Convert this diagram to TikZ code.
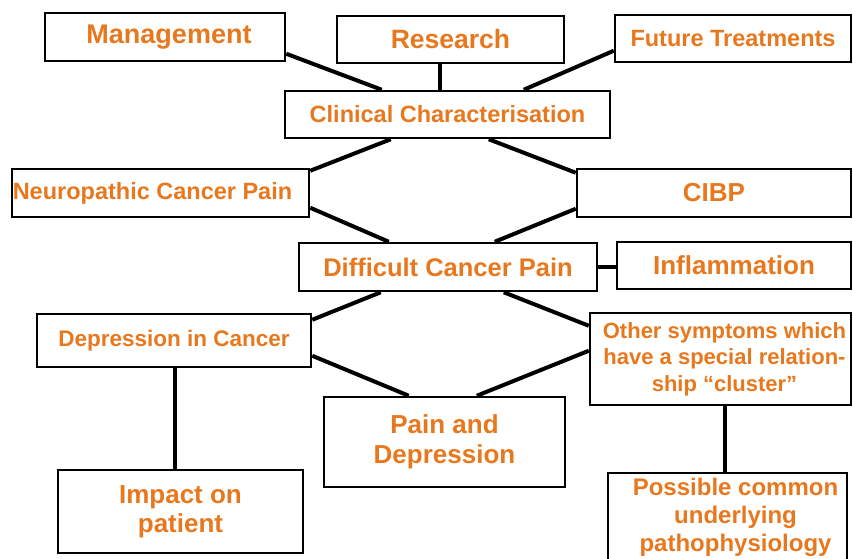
\documentclass[tikz,border=0pt]{standalone}
\usepackage{fontspec}
\setmainfont{Liberation Sans}
\usetikzlibrary{calc}
\definecolor{txt}{RGB}{232,120,30}
\newcommand{\fs}[2]{\fontsize{#1}{#2}\selectfont}
\newcommand{\sh}{\hspace*{16pt}}
\begin{document}
\begin{tikzpicture}[x=1pt,y=-1pt,
  box/.style={draw=black, line width=2.5pt, fill=white, inner sep=0pt, align=center, text=txt, font=\bfseries},
  link/.style={line width=4pt, black}]
\useasboundingbox (0,0) rectangle (853,558);
\fill[white] (0,0) rectangle (853,558);

\node[box, minimum width=240pt, minimum height=48pt, font=\bfseries\fs{27}{30}] (mgmt) at (165,37) {\hspace*{8pt}Management};
\node[box, minimum width=227pt, minimum height=47pt, font=\bfseries\fs{26.5}{30}] (research) at (450.5,39.5) {Research};
\node[box, minimum width=236pt, minimum height=47pt, font=\bfseries\fs{23.5}{28}] (future) at (733,38.5) {Future Treatments};
\node[box, minimum width=325pt, minimum height=47pt, font=\bfseries\fs{23.5}{28}] (clin) at (447.5,114.5) {Clinical Characterisation};
\node[box, minimum width=297pt, minimum height=48pt, font=\bfseries\fs{23.5}{28}] (neuro) at (160.5,193) {Neuropathic Cancer Pain\sh};
\node[box, minimum width=274pt, minimum height=48pt, font=\bfseries\fs{26}{30}] (cibp) at (714,193) {CIBP};
\node[box, minimum width=298pt, minimum height=48pt, font=\bfseries\fs{25.5}{30}] (diff) at (448,267) {Difficult Cancer Pain};
\node[box, minimum width=234pt, minimum height=47pt, font=\bfseries\fs{26}{30}] (infl) at (734,265.5) {Inflammation};
\node[box, minimum width=274pt, minimum height=53pt, font=\bfseries\fs{22.5}{28}] (dep) at (174,340.5) {Depression in Cancer};
\node[box, minimum width=261pt, minimum height=92pt, font=\bfseries\fs{22}{26.5}] (other) at (720.5,359) {\hspace*{8pt}Other symptoms which\\\hspace*{8pt}have a special relation-\\\hspace*{8pt}ship ``cluster''};
\node[box, minimum width=241pt, minimum height=90pt, font=\bfseries\fs{26}{30}] (paindep) at (444.5,442) {Pain and\\Depression};
\node[box, minimum width=245pt, minimum height=83pt, font=\bfseries\fs{26}{29}] (impact) at (180.5,511.5) {Impact on\\patient};
\node[box, minimum width=239pt, minimum height=88pt, font=\bfseries\fs{24}{28}] (possible) at (727.5,517) {\sh Possible common\\\sh underlying\\\sh pathophysiology};

% connectors
\draw[link] ($(mgmt.north east)+(0,42)$) -- ($(clin.north west)+(98,0)$);
\draw[link] ($(research.south west)+(104,0)$) -- ($(clin.north west)+(156,0)$);
\draw[link] ($(future.north west)+(0,37)$) -- ($(clin.north west)+(240,0)$);
\draw[link] ($(clin.south west)+(107,0)$) -- ($(neuro.north east)+(0,3)$);
\draw[link] ($(clin.south west)+(205,0)$) -- ($(cibp.north west)+(0,5)$);
\draw[link] ($(neuro.north east)+(0,40)$) -- ($(diff.north west)+(91,0)$);
\draw[link] ($(cibp.north west)+(0,41)$) -- ($(diff.north west)+(197,0)$);
\draw[link] (diff.east) -- (infl.west |- diff.east);
\draw[link] ($(diff.south west)+(83,0)$) -- ($(dep.north east)+(0,7)$);
\draw[link] ($(diff.south west)+(206,0)$) -- ($(other.north west)+(0,14)$);
\draw[link] ($(dep.north east)+(0,43)$) -- ($(paindep.north west)+(86,0)$);
\draw[link] ($(other.north west)+(0,39)$) -- ($(paindep.north west)+(154,0)$);
\draw[link] ($(dep.south west)+(139,0)$) -- ($(impact.north west)+(118,0)$);
\draw[link] ($(other.south west)+(136,0)$) -- ($(possible.north west)+(118,0)$);
\end{tikzpicture}
\end{document}
